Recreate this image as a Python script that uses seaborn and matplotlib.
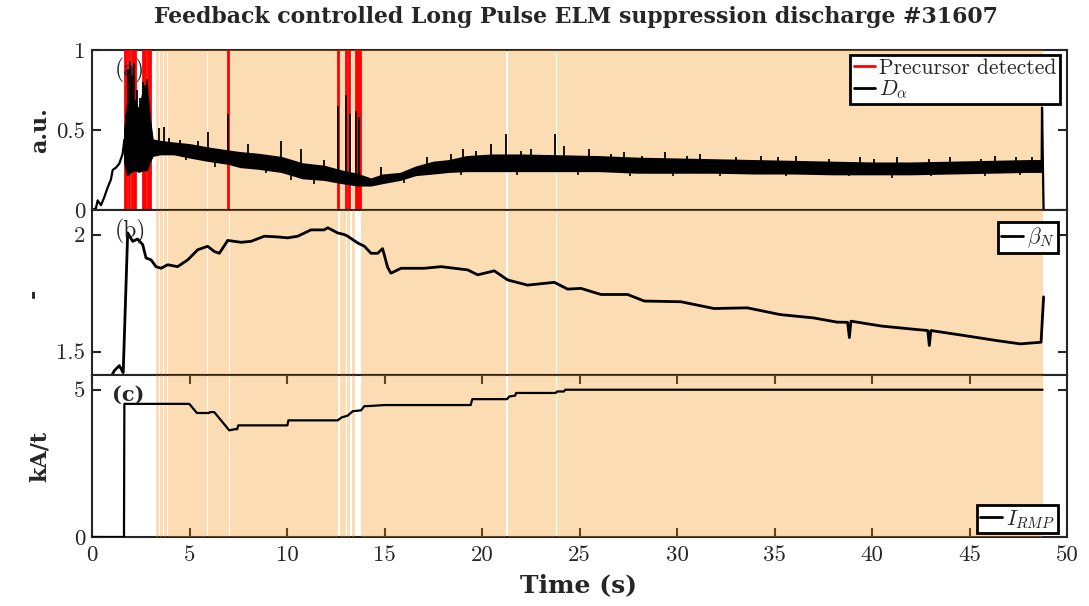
import numpy as np
import pandas as pd
import matplotlib
matplotlib.use("Agg")
import matplotlib.pyplot as plt
import seaborn as sns
from matplotlib.lines import Line2D

# ---------------- data ----------------
title = "Feedback controlled Long Pulse ELM suppression discharge #31607"
x_ticks = [0, 5, 10, 15, 20, 25, 30, 35, 40, 45, 50]

# ELM-suppressed (shaded) intervals
supp_start = [3.28, 3.49, 3.70, 3.92, 5.97, 7.08, 12.71, 13.07, 13.32, 13.82, 21.31, 23.84]
supp_end = [3.43, 3.64, 3.86, 5.90, 7.01, 12.64, 13.00, 13.25, 13.50, 21.24, 23.77, 48.75]

# precursor detections
precursor_t = [1.68, 1.76, 1.92, 2.06, 2.14, 2.22, 2.62, 2.72, 2.88, 2.96,
               6.99, 12.60, 13.03, 13.20, 13.56, 13.66, 13.74]

# D_alpha: start-up trace
da_pre_t = [0.0, 0.2, 0.29, 0.46, 0.63, 0.80, 0.97, 1.06, 1.23, 1.40, 1.57, 1.66]
da_pre_v = [0.0, 0.01, 0.06, 0.03, 0.08, 0.14, 0.19, 0.25, 0.265, 0.29, 0.35, 0.44]
# D_alpha: noisy band (lower / upper envelope)
da_band_t = [1.66, 1.8, 2.0, 2.2, 2.4, 2.6, 2.8, 2.95, 3.1, 3.5, 4.2, 5.0, 5.9,
             7.0, 7.6, 8.5, 9.7, 10.8, 11.9, 12.8, 13.6, 14.3, 14.9, 15.8, 16.6,
             17.5, 18.3, 19.2, 20.5, 22.0, 24.0, 26.0, 28.0, 30.0, 32.0, 34.0,
             36.0, 38.0, 40.0, 42.0, 44.0, 46.0, 48.0, 48.7]
da_low = [0.30, 0.22, 0.24, 0.25, 0.24, 0.25, 0.25, 0.30, 0.34, 0.35, 0.35, 0.33, 0.31,
          0.29, 0.27, 0.26, 0.24, 0.20, 0.19, 0.17, 0.155, 0.155, 0.17, 0.19, 0.22,
          0.23, 0.24, 0.245, 0.245, 0.245, 0.245, 0.245, 0.235, 0.235, 0.235, 0.23,
          0.23, 0.225, 0.225, 0.225, 0.23, 0.235, 0.24, 0.24]
da_high = [0.50, 0.66, 0.72, 0.68, 0.62, 0.74, 0.78, 0.58, 0.44, 0.43, 0.42, 0.41, 0.39,
           0.37, 0.36, 0.35, 0.33, 0.29, 0.275, 0.245, 0.225, 0.195, 0.22, 0.23, 0.27,
           0.30, 0.31, 0.335, 0.345, 0.345, 0.34, 0.335, 0.325, 0.32, 0.315, 0.31,
           0.305, 0.30, 0.295, 0.295, 0.30, 0.305, 0.31, 0.31]
# D_alpha: upward spikes (ELMs / bursts)
da_spk_t = [1.72, 1.85, 1.95, 2.05, 2.15, 2.30, 2.45, 2.60, 2.72, 2.82, 2.90,
            3.45, 3.70, 3.97, 4.5, 5.45, 5.93, 6.99, 8.0, 9.70, 10.7, 11.9,
            12.60, 13.03, 13.25, 13.55, 13.70, 14.80,
            17.2, 18.4, 19.0, 19.7, 20.46, 21.23, 22.0, 22.5, 23.74, 24.2, 25.5,
            26.6, 27.3, 28.2, 29.4, 30.5, 31.2, 33.0, 34.3, 35.2, 36.1, 37.8,
            39.4, 40.1, 41.3, 42.9, 44.0, 45.6, 46.3, 47.4, 48.2]
da_spk_v = [0.60, 0.88, 0.93, 0.85, 0.92, 0.75, 0.70, 0.80, 0.78, 0.82, 0.63,
            0.51, 0.52, 0.45, 0.44, 0.43, 0.49, 0.60, 0.41, 0.43, 0.38, 0.31,
            0.65, 0.72, 0.60, 0.62, 0.58, 0.27,
            0.33, 0.35, 0.38, 0.37, 0.41, 0.475, 0.37, 0.38, 0.475, 0.40, 0.38,
            0.35, 0.36, 0.34, 0.36, 0.34, 0.35, 0.33, 0.34, 0.33, 0.34, 0.32,
            0.33, 0.32, 0.33, 0.32, 0.33, 0.32, 0.34, 0.33, 0.33]
# D_alpha: downward dips
da_dip_t = [4.8, 6.3, 8.9, 10.2, 11.4, 16.0, 18.9, 21.8, 24.9, 27.6, 29.8,
            32.2, 35.6, 38.8, 41.0, 43.0, 45.8, 47.6]
da_dip_v = [0.31, 0.27, 0.23, 0.19, 0.16, 0.17, 0.22, 0.22, 0.22, 0.21, 0.21,
            0.21, 0.21, 0.21, 0.20, 0.21, 0.21, 0.22]
# D_alpha: end of discharge
da_end_t = [48.70, 48.72, 48.80]
da_end_v = [0.28, 0.64, 0.0]

# beta_N
beta_t = [0.9, 1.14, 1.40, 1.57, 1.60, 1.83, 2.09, 2.34, 2.60, 2.77, 3.03, 3.28, 3.54,
          3.88, 4.39, 4.91, 5.42, 5.93, 6.27, 6.53, 6.96, 7.64, 8.15, 8.84, 9.52,
          10.04, 10.55, 11.23, 11.9, 12.09, 12.6, 12.94, 13.11, 13.63, 13.97, 14.31,
          14.65, 14.9, 15.16, 15.33, 15.85, 17.04, 17.9, 19.27, 19.78, 20.63, 21.32,
          22.34, 23.71, 24.39, 25.08, 26.1, 27.47, 28.32, 30.2, 31.9, 33.6, 35.3,
          37.0, 38.2, 38.75, 38.84, 38.92, 40.5, 42.2, 42.86, 42.94, 43.02, 44.7,
          46.4, 47.6, 48.67, 48.8]
beta_v = [1.38, 1.418, 1.44, 1.414, 1.41, 2.007, 1.971, 1.981, 1.957, 1.90, 1.892, 1.863, 1.856,
          1.871, 1.863, 1.892, 1.935, 1.95, 1.928, 1.92, 1.975, 1.967, 1.971, 1.993, 1.99,
          1.986, 1.993, 2.02, 2.02, 2.029, 2.007, 2.0, 1.993, 1.964, 1.95, 1.92,
          1.92, 1.94, 1.86, 1.835, 1.856, 1.856, 1.863, 1.849, 1.828, 1.845, 1.806,
          1.784, 1.796, 1.767, 1.77, 1.744, 1.744, 1.716, 1.713, 1.684, 1.687, 1.658,
          1.644, 1.626, 1.625, 1.56, 1.63, 1.609, 1.595, 1.59, 1.526, 1.59, 1.569,
          1.547, 1.533, 1.54, 1.734]

# I_RMP (kA/t)
irmp_t = [0.0, 1.64, 1.66, 4.99, 5.38, 6.0, 6.05, 6.27, 7.04, 7.33, 7.45, 7.5, 10.02,
          10.07, 12.6, 12.8, 13.11, 13.37, 13.8, 13.96, 14.3, 15.0, 19.42, 19.5,
          21.28, 21.4, 21.7, 21.75, 23.78, 23.85, 24.2, 24.27, 48.75]
irmp_v = [0.0, 0.0, 4.52, 4.52, 4.21, 4.21, 4.24, 4.24, 3.62, 3.66, 3.66, 3.79, 3.79,
          3.96, 3.96, 4.06, 4.12, 4.27, 4.30, 4.44, 4.45, 4.48, 4.48, 4.68,
          4.68, 4.77, 4.80, 4.89, 4.89, 4.94, 4.94, 5.0, 5.0]

# ---------------- style ----------------
sns.set_theme(style="white")
plt.rcParams.update({
    "font.family": ["cmr10", "DejaVu Serif"],
    "mathtext.fontset": "cm",
    "axes.formatter.use_mathtext": True,
    "axes.unicode_minus": False,
    "axes.edgecolor": "#262626",
    "axes.linewidth": 1.5,
    "axes.axisbelow": False,
})
BOLD = ["DejaVu Serif"]
SHADE = (0.97, 0.55, 0.0)
TICK_FS = 16.5
LEG_FS = 15.5

W, H = 1089, 606
fig = plt.figure(figsize=(W / 100, H / 100), dpi=100)
L, R = 92 / W, 1067 / W
y_top, y_ab, y_bc, y_bot = 50, 210, 375, 537
ax_a = fig.add_axes([L, 1 - y_ab / H, R - L, (y_ab - y_top) / H])
ax_b = fig.add_axes([L, 1 - y_bc / H, R - L, (y_bc - y_ab) / H])
ax_c = fig.add_axes([L, 1 - y_bot / H, R - L, (y_bot - y_bc) / H])
axes = [ax_a, ax_b, ax_c]

for ax in axes:
    for s, e in zip(supp_start, supp_end):
        ax.axvspan(s, e, color=SHADE, alpha=0.3, lw=0, zorder=3)
    ax.set_xlim(0, 50)
    ax.tick_params(axis="y", which="both", direction="in", left=True, right=True,
                   length=6.5, width=1.5, color="#262626", labelsize=TICK_FS, pad=5)
    for sp in ax.spines.values():
        sp.set_linewidth(1.5)
        sp.set_color("#262626")

# ---- panel (a) ----
for t in precursor_t:
    ax_a.axvline(t, color="red", lw=2.0, zorder=3.5)
sns.lineplot(x=da_pre_t, y=da_pre_v, ax=ax_a, color="black", lw=1.6,
             estimator=None, sort=False, legend=False, zorder=4)
ax_a.fill_between(da_band_t, da_low, da_high, color="black", lw=1.2, zorder=4)
base = np.interp(da_spk_t, da_band_t, da_low)
ax_a.vlines(da_spk_t, base, da_spk_v, color="black", lw=1.3, zorder=4)
top = np.interp(da_dip_t, da_band_t, da_high)
ax_a.vlines(da_dip_t, da_dip_v, top, color="black", lw=1.2, zorder=4)
sns.lineplot(x=da_end_t, y=da_end_v, ax=ax_a, color="black", lw=1.6,
             estimator=None, sort=False, legend=False, zorder=4)
ax_a.set_ylim(0, 1)
ax_a.set_yticks([0, 0.5, 1])
ax_a.set_yticklabels(["0", "0.5", "1"])
ax_a.tick_params(axis="x", bottom=False, top=False, labelbottom=False)
ax_a.set_xticks(x_ticks)
h_a = [Line2D([], [], color="red", lw=2), Line2D([], [], color="black", lw=2)]
leg = ax_a.legend(h_a, ["Precursor detected", r"$D_\alpha$"], loc="upper right",
                  bbox_to_anchor=(1 - 7 / 975, 1 - 5 / 160), borderaxespad=0,
                  fontsize=LEG_FS, handlelength=1.0, handletextpad=0.2,
                  borderpad=0.15, labelspacing=0.05, fancybox=False, framealpha=1)
leg.get_frame().set_edgecolor("black")
leg.get_frame().set_linewidth(2)
leg.set_zorder(10)

# ---- panel (b) ----
sns.lineplot(x=beta_t, y=beta_v, ax=ax_b, color="black", lw=2.0,
             estimator=None, sort=False, legend=False, zorder=4)
ax_b.set_ylim(1.4, 2.105)
ax_b.set_yticks([1.5, 2])
ax_b.set_yticklabels(["1.5", "2"])
ax_b.tick_params(axis="x", bottom=False, top=False, labelbottom=False)
leg = ax_b.legend([Line2D([], [], color="black", lw=2)], [r"$\beta_N$"], loc="upper right",
                  bbox_to_anchor=(1 - 9 / 975, 1 - 12 / 165), borderaxespad=0,
                  fontsize=LEG_FS, handlelength=1.0, handletextpad=0.2,
                  borderpad=0.15, fancybox=False, framealpha=1)
leg.get_frame().set_edgecolor("black")
leg.get_frame().set_linewidth(2)
leg.set_zorder(10)

# ---- panel (c) ----
sns.lineplot(x=irmp_t, y=irmp_v, ax=ax_c, color="black", lw=1.6,
             estimator=None, sort=False, legend=False, zorder=4)
ax_c.set_ylim(0, 5.5)
ax_c.set_yticks([0, 5])
ax_c.set_yticklabels(["0", "5"])
ax_c.set_xticks(x_ticks)
ax_c.set_xticklabels([str(v) for v in x_ticks])
ax_c.tick_params(axis="x", direction="in", bottom=True, top=True, length=6.5, width=1.5,
                 color="#262626", labelsize=TICK_FS, pad=6)
leg = ax_c.legend([Line2D([], [], color="black", lw=2)], [r"$I_{RMP}$"], loc="lower right",
                  bbox_to_anchor=(1 - 9 / 975, 4 / 162), borderaxespad=0,
                  fontsize=LEG_FS, handlelength=1.0, handletextpad=0.2,
                  borderpad=0.15, fancybox=False, framealpha=1)
leg.get_frame().set_edgecolor("black")
leg.get_frame().set_linewidth(2)
leg.set_zorder(10)

# panel tags
ax_a.text(0.039, 0.875, "(a)", transform=ax_a.transAxes, fontsize=17,
          ha="center", va="center", zorder=6)
ax_b.text(0.039, 0.867, "(b)", transform=ax_b.transAxes, fontsize=17,
          ha="center", va="center", zorder=6)
ax_c.text(0.037, 0.877, "(c)", transform=ax_c.transAxes, fontsize=15,
          ha="center", va="center", zorder=6, family=BOLD, weight="bold")

# labels & title
fig.text(40 / W, 1 - 130 / H, "a.u.", rotation=90, ha="center", va="center",
         fontsize=16, family=BOLD, weight="bold")
fig.text(34 / W, 1 - 293 / H, "-", rotation=90, ha="center", va="center",
         fontsize=16, family=BOLD, weight="bold")
fig.text(40 / W, 1 - 456 / H, "kA/t", rotation=90, ha="center", va="center",
         fontsize=16, family=BOLD, weight="bold")
fig.text(578 / W, 1 - 585 / H, "Time (s)", ha="center", va="center",
         fontsize=18, family=BOLD, weight="bold")
fig.text(576 / W, 1 - 17 / H, title, ha="center", va="center",
         fontsize=15.8, family=BOLD, weight="bold")

fig.savefig("out.png", dpi=100)
